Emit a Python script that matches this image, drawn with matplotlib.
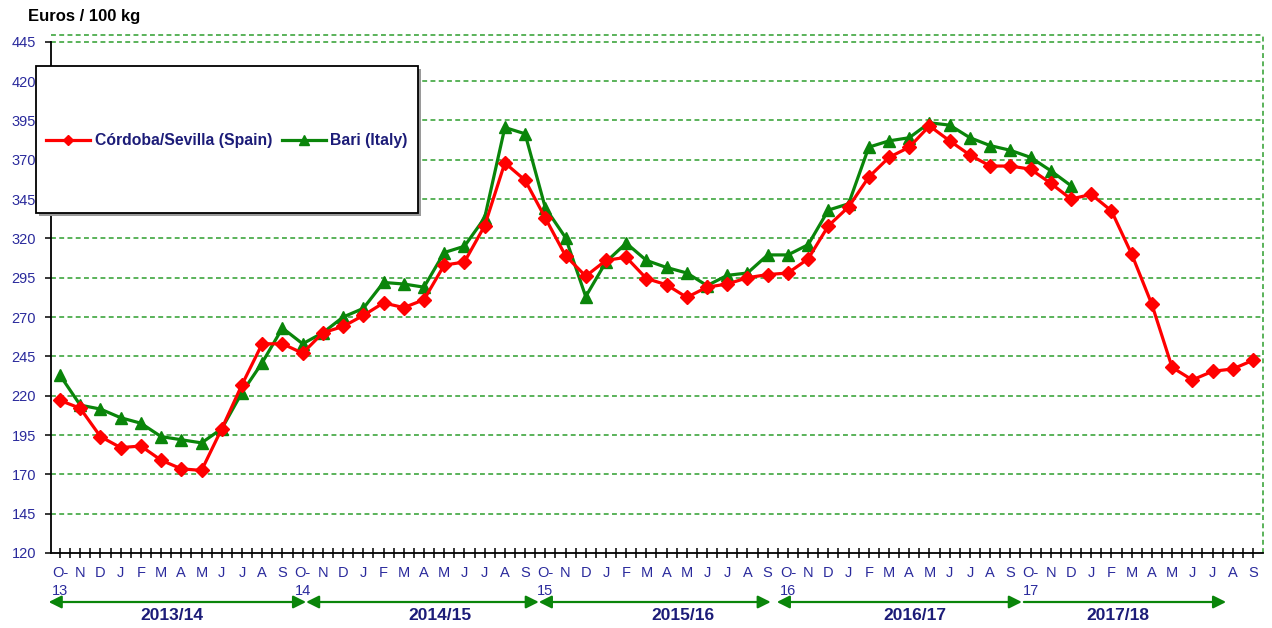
import matplotlib
matplotlib.use("Agg")
import matplotlib.pyplot as plt
import matplotlib.transforms as mtransforms
from matplotlib.patches import Rectangle, FancyArrowPatch
import numpy as np

plt.rcParams['font.family'] = ['Liberation Sans', 'DejaVu Sans']

# ---------------- data ----------------
month_labels = (["O-\n13", "N", "D", "J", "F", "M", "A", "M", "J", "J", "A", "S"]
                + ["O-\n14", "N", "D", "J", "F", "M", "A", "M", "J", "J", "A", "S"]
                + ["O-\n15", "N", "D", "J", "F", "M", "A", "M", "J", "J", "A", "S"]
                + ["O-\n16", "N", "D", "J", "F", "M", "A", "M", "J", "J", "A", "S"]
                + ["O-\n17", "N", "D", "J", "F", "M", "A", "M", "J", "J", "A", "S"])

spain = [217, 212, 194, 187, 188, 179, 173.5, 172.5, 199, 227, 253, 253,
         247, 260, 264, 271, 279, 276, 281, 303, 305, 328, 368, 357,
         333, 309, 296, 306, 308, 294.5, 290.5, 282.5, 289, 291, 295, 297,
         298, 307, 328, 340, 359, 371.5, 378, 391.5, 382, 373, 366, 366,
         364, 355, 345, 348, 337.5, 310, 278, 238, 230, 235.5, 237, 242.5]

italy = [233, 214, 211.5, 206, 202.5, 194, 192, 190, 199, 222, 241, 263,
         253, 260, 270, 275.5, 292, 291, 289, 311, 315, 333, 390.5, 386.5,
         339.5, 320.5, 283, 305, 317, 306, 301.5, 298, 290, 296.5, 298, 309.5,
         309.5, 316, 338, 342, 378, 382, 384, 393.5, 392, 384, 379, 376,
         371.5, 363, 353.5]

season_labels = ["2013/14", "2014/15", "2015/16", "2016/17", "2017/18"]
y_ticks = list(range(120, 446, 25))

series_names = ["Córdoba/Sevilla (Spain)", "Bari (Italy)"]

# ---------------- styles / layout ----------------
RED = "#FF0000"
GREEN = "#0A850A"
GRID = "#2E9E2E"
LABEL_BLUE = "#2A2A9C"
NAVY = "#1C1C78"

W, H = 1272, 628
fig = plt.figure(figsize=(W / 100, H / 100), dpi=100)
ax = fig.add_axes([50.7 / W, 1 - 553 / H, (1262.7 - 50.7) / W, (553 - 35) / H])

x_sp = np.arange(len(spain))
x_it = np.arange(len(italy))

ax.plot(x_sp, spain, color=RED, lw=2.3, marker="D", ms=7,
        mec=RED, mfc=RED, zorder=4, label=series_names[0])
ax.plot(x_it, italy, color=GREEN, lw=2.3, marker="^", ms=9,
        mec=GREEN, mfc=GREEN, zorder=3, label=series_names[1])

ax.set_xlim(-0.46, 59.48)
ax.set_ylim(120, 449.3)

# grid
for yv in y_ticks[1:]:
    ax.axhline(yv, color=GRID, lw=1.1, ls=(0, (3.2, 2.2)), zorder=1)
ax.axhline(449.3, color=GRID, lw=1.1, ls=(0, (3.2, 2.2)), zorder=1, clip_on=False)
ax.axvline(59.48, color=GRID, lw=1.1, ls=(0, (3.2, 2.2)), zorder=1, clip_on=False)

for s in ["top", "right"]:
    ax.spines[s].set_visible(False)
ax.spines["left"].set_bounds(120, 445)
ax.spines["left"].set_linewidth(1.3)
ax.spines["bottom"].set_linewidth(1.3)

ax.set_yticks(y_ticks)
ax.set_yticklabels([str(v) for v in y_ticks])
ax.tick_params(axis="y", direction="out", length=4.5, width=1.1, pad=6,
               labelsize=10.5, labelcolor=LABEL_BLUE)

ax.set_xticks(np.arange(len(month_labels)))
ax.set_xticklabels(month_labels, linespacing=1.35, va="top")
ax.set_xticks(np.arange(len(month_labels) - 1) + 0.5, minor=True)
ax.tick_params(axis="x", which="major", direction="inout", length=7, width=1.1,
               pad=6, labelsize=10.5, labelcolor=LABEL_BLUE)
ax.tick_params(axis="x", which="minor", direction="inout", length=7, width=1.1)

# y-axis title
fig.text(28 / W, 1 - 17 / H, "Euros / 100 kg", fontsize=12, fontweight="bold",
         color="black", ha="left", va="center")

# season arrows and labels
trans = mtransforms.blended_transform_factory(ax.transData, fig.transFigure)
arrow_spans = [(-0.56, 12.17, "<|-|>"), (12.17, 23.68, "<|-|>"),
               (23.68, 35.15, "<|-|>"), (35.45, 47.57, "<|-|>"),
               (47.67, 57.67, "-|>")]
label_pos = [5.54, 18.8, 30.8, 42.3, 52.3]
y_arrow = 1 - 602 / H
for (a, b, st) in arrow_spans:
    arr = FancyArrowPatch((a, y_arrow), (b, y_arrow), transform=trans,
                          arrowstyle=st, mutation_scale=19, color=GREEN,
                          lw=1.6, shrinkA=0, shrinkB=0, clip_on=False)
    fig.add_artist(arr)
for lab, xp in zip(season_labels, label_pos):
    fig.text(xp, 1 - 616 / H, lab, transform=trans, ha="center", va="center",
             fontsize=12.5, fontweight="bold", color=NAVY)

# legend box
bx0, by0, bx1, by1 = 36, 66, 418, 213
shadow = Rectangle((bx0 / W + 2.5 / W, 1 - by1 / H - 2.5 / H), (bx1 - bx0) / W, (by1 - by0) / H,
                   transform=fig.transFigure, facecolor="#9a9a9a", edgecolor="none", zorder=5)
box = Rectangle((bx0 / W, 1 - by1 / H), (bx1 - bx0) / W, (by1 - by0) / H,
                transform=fig.transFigure, facecolor="white", edgecolor="black",
                lw=1.3, zorder=6)
fig.add_artist(shadow)
fig.add_artist(box)
handles, labels = ax.get_legend_handles_labels()
leg = fig.legend(handles, labels, loc="center", ncol=2,
                 bbox_to_anchor=(((bx0 + bx1) / 2) / W, 1 - ((by0 + by1) / 2 + 1) / H),
                 frameon=False, fontsize=11.3, handlelength=2.8, handletextpad=0.3,
                 columnspacing=0.6, markerscale=0.75)
leg.set_zorder(7)
for t in leg.get_texts():
    t.set_color(NAVY)
    t.set_fontweight("bold")

fig.savefig("out.png", dpi=100)
